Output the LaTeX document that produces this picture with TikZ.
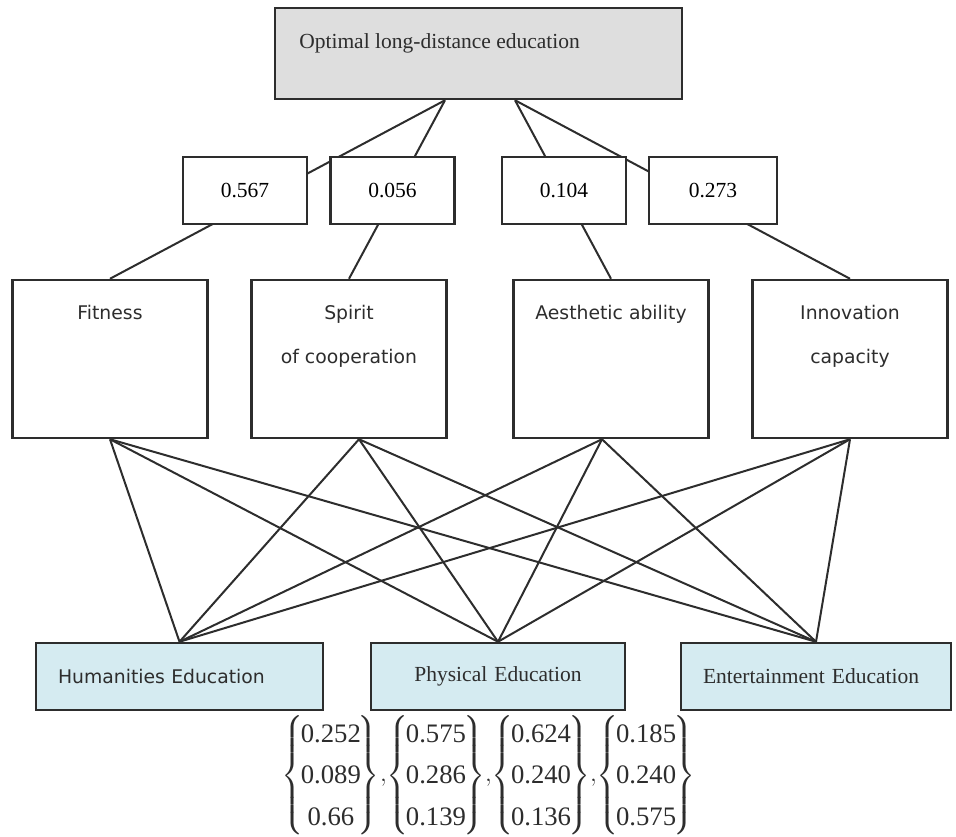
\documentclass[tikz,border=0pt]{standalone}
\usepackage{amsmath}
\usepackage{fontspec}
\setmainfont{Liberation Serif}
\newfontfamily\vsans{DejaVu Sans}
\usetikzlibrary{positioning}

\definecolor{altblue}{RGB}{213,235,241}
\definecolor{goalgray}{RGB}{222,222,222}
\definecolor{inkgray}{RGB}{45,45,45}

\newcommand{\wvec}[3]{{\left\{\renewcommand{\arraystretch}{1.3}\begin{tabular}{@{\hspace{-3pt}}c@{\hspace{-3pt}}}#1\\#2\\#3\end{tabular}\right\}}}

\tikzset{
  line/.style={draw=inkgray, line width=2pt},
  goalbox/.style={draw=inkgray, line width=2.5pt, fill=goalgray, minimum width=407pt, minimum height=91pt},
  wbox/.style={draw=inkgray, line width=2.5pt, fill=white, minimum width=124pt, minimum height=67pt, font=\fontsize{21.5}{26}\selectfont},
  critbox/.style={draw=inkgray, line width=2.5pt, fill=white, minimum width=195pt, minimum height=158pt},
  crittext/.style={inner sep=0pt, align=center, text=inkgray, font=\vsans\fontsize{18.8}{44}\selectfont},
  altbox/.style={draw=inkgray, line width=2.5pt, fill=altblue, minimum height=67pt, inner xsep=22pt, text=inkgray, font=\fontsize{21.5}{26}\selectfont}
}

\begin{document}
\begin{tikzpicture}[x=1pt,y=-1pt]
  \useasboundingbox (0,0) rectangle (956,836);

  \node[goalbox] (goal) at (478.5,53.5) {};
  \node[anchor=base west, text=inkgray, font=\fontsize{21.5}{26}\selectfont] (goaltext) at ([xshift=22pt,yshift=-42pt]goal.north west) {Optimal long-distance education};

  \node[critbox] (fit) at (110,359) {};
  \node[critbox, right=41.5pt of fit] (spi) {};
  \node[critbox, right=64.5pt of spi] (aes) {};
  \node[critbox, right=41.5pt of aes] (inn) {};

  \node[crittext, anchor=north] (fittext) at ([yshift=-26pt]fit.north) {Fitness};
  \node[crittext, anchor=north] (spitext) at ([yshift=-26pt]spi.north) {Spirit\\of cooperation};
  \node[crittext, anchor=north] (aestext) at ([yshift=-26pt]aes.north) {Aesthetic ability};
  \node[crittext, anchor=north] (inntext) at ([yshift=-26pt]inn.north) {Innovation\\capacity};

  \node[altbox, text width=243pt, align=left, font=\vsans\fontsize{18.8}{24}\selectfont] (hum) at (179.5,676.5) {Humanities Education};
  \node[altbox, text width=210pt, align=center, right=45.5pt of hum] (phy) {Physical Education};
  \node[altbox, text width=226pt, align=left, right=53.5pt of phy] (ent) {Entertainment Education};

  %goal>criteria
  \coordinate (gl) at ([xshift=-33.5pt]goal.south);
  \coordinate (gr) at ([xshift=36.5pt]goal.south);
  \draw[line] (gl) -- (fit.north);
  \draw[line] (gl) -- (spi.north);
  \draw[line] (gr) -- (aes.north);
  \draw[line] (gr) -- (inn.north);

  %weights
  \node[wbox] (w1) at (245,190.5) {0.567};
  \node[wbox] (w2) at (392.5,190.5) {0.056};
  \node[wbox] (w3) at (564,190.5) {0.104};
  \node[wbox, minimum width=128pt] (w4) at (713,190.5) {0.273};

  %fitness>alternatives
  \draw[line] (fit.south) -- (hum.north);
  \draw[line] (fit.south) -- (phy.north);
  \draw[line] (fit.south) -- (ent.north);
  %spirit>alternatives
  \draw[line] ([xshift=10pt]spi.south) -- (hum.north);
  \draw[line] ([xshift=10pt]spi.south) -- (phy.north);
  \draw[line] ([xshift=10pt]spi.south) -- (ent.north);
  %aesthetic>alternatives
  \draw[line] ([xshift=-9pt]aes.south) -- (hum.north);
  \draw[line] ([xshift=-9pt]aes.south) -- (phy.north);
  \draw[line] ([xshift=-9pt]aes.south) -- (ent.north);
  %innovation>alternatives
  \draw[line] (inn.south) -- (hum.north);
  \draw[line] (inn.south) -- (phy.north);
  \draw[line] (inn.south) -- (ent.north);

  %result vectors
  \node[text=inkgray, inner sep=0pt, font=\fontsize{26.7}{32}\selectfont] (res) at (488.5,775.5)
    {\delimitershortfall=40pt $\wvec{0.252}{0.089}{0.66},\!\wvec{0.575}{0.286}{0.139},\!\wvec{0.624}{0.240}{0.136},\!\wvec{0.185}{0.240}{0.575}$};
\end{tikzpicture}
\end{document}
